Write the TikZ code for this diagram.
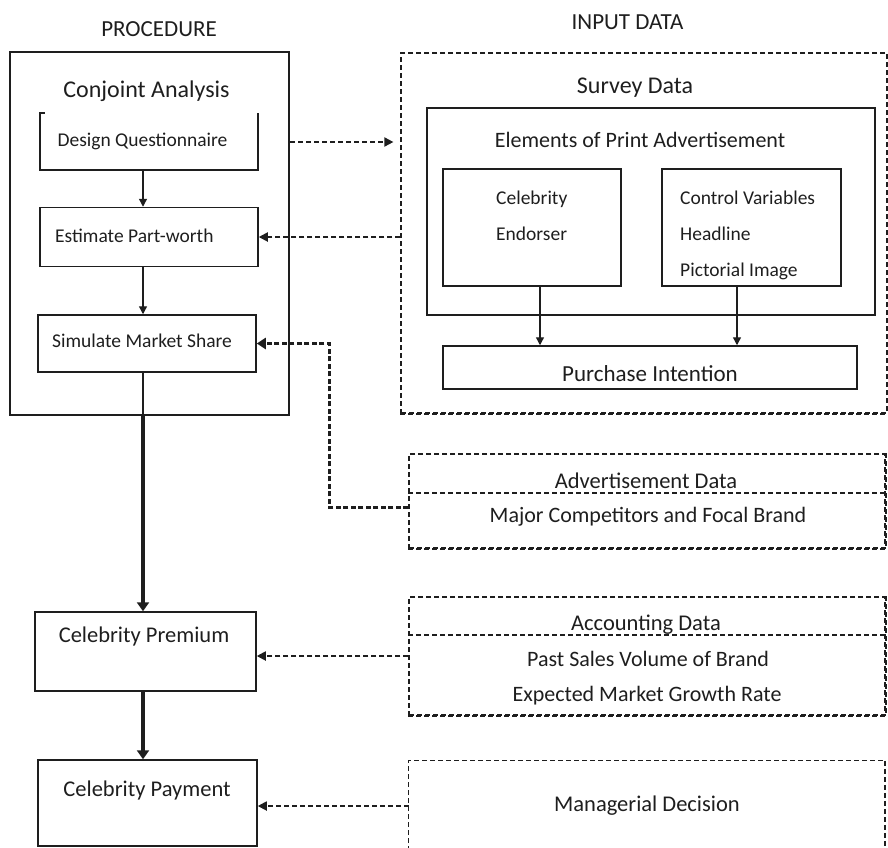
\documentclass[tikz,border=0pt]{standalone}
\usepackage{fontspec}
\setmainfont{Carlito}
\usetikzlibrary{arrows.meta}
\definecolor{ink}{HTML}{1E1E1E}
\tikzset{
  box/.style={draw=ink, line width=1.5pt, inner sep=0pt, rectangle},
  outerbox/.style={draw=ink, line width=2pt, inner sep=0pt, rectangle},
  dbox/.style={draw=ink, line width=1.2pt, dash pattern=on 5pt off 3pt, inner sep=0pt, rectangle},
  dline/.style={draw=ink, line width=1.2pt, dash pattern=on 5pt off 3pt},
  dheavy/.style={draw=ink, line width=2pt, dash pattern=on 5pt off 3pt},
  txt/.style={inner sep=0pt, text=ink, anchor=base, font=\fontsize{#1}{#1}\selectfont},
  ltxt/.style={inner sep=0pt, text=ink, anchor=base west, font=\fontsize{#1}{#1}\selectfont},
  arr/.style={draw=ink, line width=1.3pt, -{Triangle[length=8pt,width=8pt]}},
  thickarr/.style={draw=ink, line width=3.5pt, -{Triangle[length=9pt,width=12pt]}},
  darr/.style={draw=ink, line width=1.8pt, dash pattern=on 5pt off 3pt, -{Triangle[length=9pt,width=9pt]}},
  tdarr/.style={draw=ink, line width=3pt, dash pattern=on 5pt off 2.5pt, -{Triangle[length=9pt,width=11pt]}},
}
\begin{document}
\begin{tikzpicture}[x=1pt,y=-1pt]
\useasboundingbox (0,0) rectangle (888,847);

% ---------- headings ----------
\node[txt=23] (hproc) at (159,36.4) {PROCEDURE};
\node[txt=23] (hinput) at (627.5,29.9) {INPUT DATA};

% ---------- procedure column ----------
\node[outerbox, minimum width=279pt, minimum height=363pt] (proc) at (149.5,233.5) {};
\node[txt=24] (conj) at (146.5,97.7) {Conjoint Analysis};

\node[minimum width=218pt, minimum height=57pt, inner sep=0pt] (dq) at (149,141.5) {};
\draw[ink, line width=1.5pt] ([xshift=5pt]dq.north west) -- (dq.north west) -- (dq.south west) -- (dq.south east) -- (dq.north east);
\node[txt=19.5] (dqt) at (142.5,146.3) {Design Questionnaire};

\node[box, minimum width=218pt, minimum height=59pt] (ep) at (149,237) {};
\node[ltxt=19.5] (ept) at (55,242.3) {Estimate Part-worth};

\node[box, minimum width=218pt, minimum height=57pt] (sms) at (147,343.5) {};
\node[ltxt=19.5] (smst) at (52,347.8) {Simulate Market Share};

\node[box, minimum width=221pt, minimum height=79pt] (cp) at (145.5,651.5) {};
\node[txt=22.5] (cpt) at (144,642.7) {Celebrity Premium};

\node[box, minimum width=219pt, minimum height=86pt] (cpay) at (147.5,803) {};
\node[txt=22.5] (cpayt) at (147,796.2) {Celebrity Payment};

\coordinate (spine) at (143,0);
\draw[arr] (dq.south -| spine) -- (ep.north -| spine);
\draw[arr] (ep.south -| spine) -- (sms.north -| spine);
\draw[ink, line width=1.3pt] (sms.south -| spine) -- (proc.south -| spine);
\draw[thickarr] (proc.south -| spine) -- (cp.north -| spine);
\draw[thickarr] (cp.south -| spine) -- (cpay.north -| spine);

% ---------- survey data ----------
\node[dbox, minimum width=486pt, minimum height=360pt] (survey) at (644,233) {};
\draw[dheavy] (survey.south west) -- (survey.south east);
\node[txt=24] (surveyt) at (635,93.2) {Survey Data};

\node[box, minimum width=448pt, minimum height=207pt] (elem) at (651,211.5) {};
\node[txt=22] (elemt) at (640,147.1) {Elements of Print Advertisement};

\node[box, minimum width=178pt, minimum height=117pt] (ce) at (532,227.5) {};
\node[ltxt=19.5] (ce1) at (496,204.8) {Celebrity};
\node[ltxt=19.5] (ce2) at (496,240.3) {Endorser};

\node[box, minimum width=179pt, minimum height=117pt] (cv) at (751.5,227.5) {};
\node[ltxt=19.5] (cv1) at (680,204.8) {Control Variables};
\node[ltxt=19.5] (cv2) at (680,240.3) {Headline};
\node[ltxt=19.5] (cv3) at (680,276.8) {Pictorial Image};

\node[box, minimum width=414pt, minimum height=43pt] (pi) at (650,367.5) {};
\node[txt=23] (pit) at (650,381.4) {Purchase Intention};

\coordinate (ceX) at (540,0);
\coordinate (cvX) at (737,0);
\draw[arr] (ce.south -| ceX) -- (pi.north -| ceX);
\draw[arr] (cv.south -| cvX) -- (pi.north -| cvX);

% ---------- advertisement data ----------
\node[dbox, minimum width=476pt, minimum height=94pt] (adv) at (647,501) {};
\draw[dheavy] (adv.south west) -- (adv.south east) -- (adv.north east);
\draw[dline] (adv.west |- 0,493) -- (adv.east |- 0,493);
\node[txt=22.5] (advt) at (646,488.2) {Advertisement Data};
\node[txt=22] (advt2) at (648,522.1) {Major Competitors and Focal Brand};

% ---------- accounting data ----------
\node[dbox, minimum width=476pt, minimum height=118pt] (acc) at (647,656) {};
\draw[dheavy] (acc.south west) -- (acc.south east) -- (acc.north east);
\draw[dline] (acc.west |- 0,635) -- (acc.east |- 0,635);
\node[txt=22.5] (acct) at (646,630.2) {Accounting Data};
\node[txt=22] (acct2) at (648,666.1) {Past Sales Volume of Brand};
\node[txt=22] (acct3) at (647,701.6) {Expected Market Growth Rate};

% ---------- managerial decision ----------
\node[minimum width=476pt, minimum height=90pt, inner sep=0pt] (mgr) at (647,806) {};
\draw[dline] (mgr.south west) -- (mgr.north west) -- (mgr.north east);
\draw[dheavy] (mgr.north east) -- (mgr.south east);
\node[txt=22.5] (mgrt) at (647,811.7) {Managerial Decision};

% ---------- dashed connectors ----------
\coordinate (toprow) at (0,142);
\draw[darr, shorten >=7pt] (proc.east |- toprow) -- (survey.west |- toprow);
\draw[darr] (survey.west |- ep.center) -- (ep.east);
\coordinate (bend) at (329,507);
\draw[tdarr] (adv.west |- bend) -- (bend) |- (sms.east);
\draw[darr] (acc.west) -- (cp.east |- acc.west);
\draw[darr] (mgr.west) -- (cpay.east |- mgr.west);
\end{tikzpicture}
\end{document}
